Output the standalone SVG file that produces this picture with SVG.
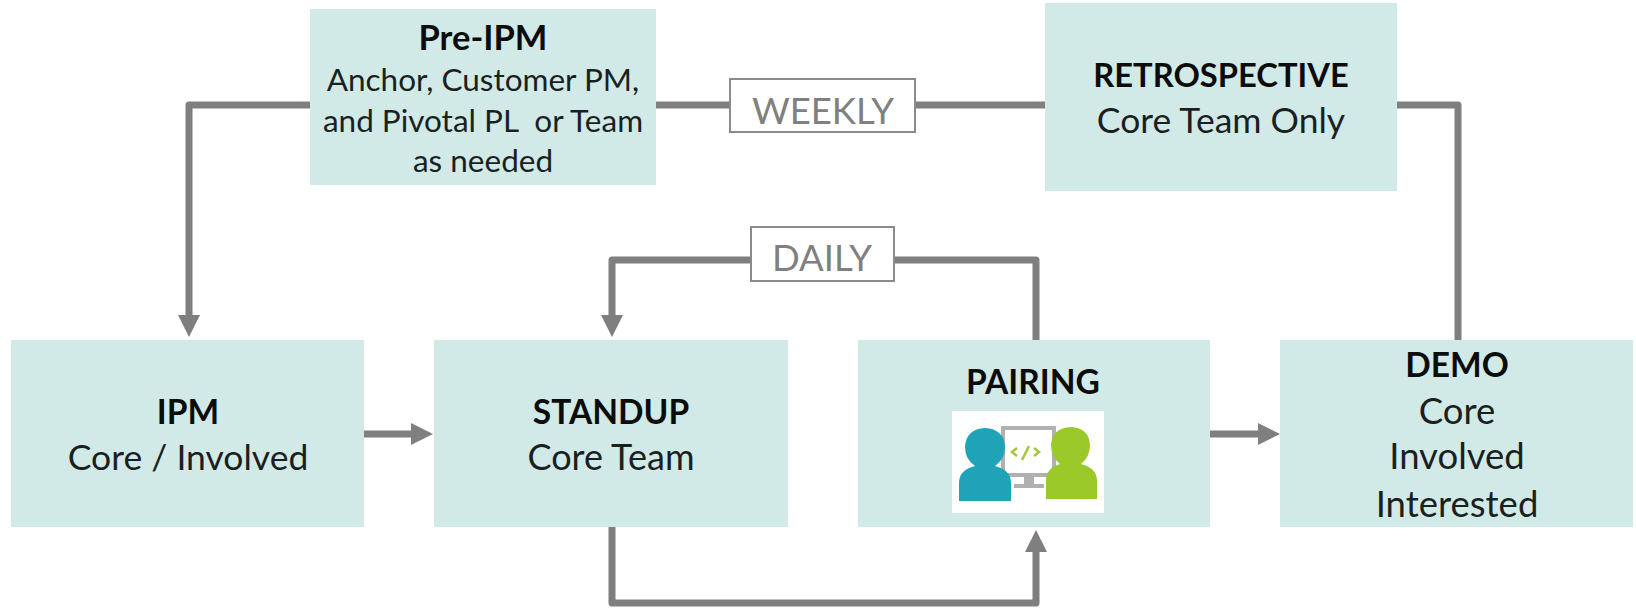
<svg xmlns="http://www.w3.org/2000/svg" width="1636" height="608" viewBox="0 0 1636 608">
<style>
.box{fill:#d2eae7}
.t{font-family:Lato,"Liberation Sans",sans-serif;font-size:35.5px;fill:#1a1f1f;text-anchor:middle}
.s{font-size:31.5px}
.b{font-weight:700;fill:#0c0c0c;font-size:33.5px}
.lab{fill:#fff;stroke:#8a8a8a;stroke-width:2}
.lt{font-family:Lato,"Liberation Sans",sans-serif;font-size:36.5px;fill:#808080;text-anchor:middle}
.c{fill:none;stroke:#7f7f7f;stroke-width:7;stroke-linejoin:round}
</style>
<defs>
<marker id="arr" markerUnits="userSpaceOnUse" markerWidth="24" markerHeight="22" refX="2" refY="11" orient="auto"><path d="M0 0L22 11L0 22Z" fill="#7f7f7f"/></marker>
</defs>
<rect width="1636" height="608" fill="#fff"/>
<g id="connectors">
<path class="c" d="M310 105H189V317" marker-end="url(#arr)"/>
<path class="c" d="M656 105H1045"/>
<path class="c" d="M1397 105H1458V340"/>
<path class="c" d="M1036 340V260H612V317" marker-end="url(#arr)"/>
<path class="c" d="M364 434H413" marker-end="url(#arr)"/>
<path class="c" d="M1210 434H1260" marker-end="url(#arr)"/>
<path class="c" d="M612 527V603H1036V550" marker-end="url(#arr)"/>
</g>
<g id="pre-ipm"><rect class="box" x="310" y="9" width="346" height="176"/>
<text class="t b" style="font-size:34.5px" x="483" y="50">Pre-IPM</text>
<text class="t s" x="483" y="91">Anchor, Customer PM,</text>
<text class="t s" x="483" y="132" xml:space="preserve">and Pivotal PL  or Team</text>
<text class="t s" x="483" y="172">as needed</text></g>
<g id="retrospective"><rect class="box" x="1045" y="3" width="352" height="188"/>
<text class="t b" style="font-size:32.7px" x="1221" y="87">RETROSPECTIVE</text>
<text class="t" x="1221" y="133">Core Team Only</text></g>
<g id="weekly"><rect class="lab" x="730" y="79" width="185" height="53"/><text class="lt" x="823" y="124">WEEKLY</text></g>
<g id="daily"><rect class="lab" x="751" y="227" width="143" height="54"/><text class="lt" x="822" y="271">DAILY</text></g>
<g id="ipm"><rect class="box" x="11" y="340" width="353" height="187"/>
<text class="t b" x="188" y="424">IPM</text>
<text class="t" x="188" y="470">Core / Involved</text></g>
<g id="standup"><rect class="box" x="434" y="340" width="354" height="187"/>
<text class="t b" x="611" y="424">STANDUP</text>
<text class="t" style="font-size:36px" x="611" y="470">Core Team</text></g>
<g id="pairing"><rect class="box" x="858" y="340" width="352" height="187"/>
<text class="t b" x="1033" y="394">PAIRING</text>
<rect x="952" y="411" width="152" height="102" fill="#fff"/>
<path d="M1003 428H1054V475H1003Z" fill="#fff" stroke="#b0b0b0" stroke-width="4"/>
<path d="M1024 475h10v9h10v4h-30v-4h10Z" fill="#b0b0b0"/>
<path d="M1017 448l-5 4 5 4M1034 448l5 4-5 4M1022 460l7-14" fill="none" stroke="#a4c639" stroke-width="2.5"/>
<path d="M959 501V483Q959 470 975 466Q965 459 965 447Q966 429 985 428Q1004 429 1005 447Q1005 459 995 466Q1011 470 1011 483V501Z" fill="#1fa3b7"/>
<path d="M1046 499V481Q1046 468 1060 464Q1051 457 1051 445Q1052 428 1071 427Q1089 428 1090 445Q1090 457 1081 464Q1097 468 1097 481V499Z" fill="#9cc92a"/></g>
<g id="demo"><rect class="box" x="1280" y="340" width="353" height="187"/>
<text class="t b" x="1457" y="377">DEMO</text>
<text class="t" style="font-size:36.5px" x="1457" y="424">Core</text>
<text class="t" style="font-size:36.5px" x="1457" y="469">Involved</text>
<text class="t" style="font-size:36.5px" x="1457" y="517">Interested</text></g>
</svg>
